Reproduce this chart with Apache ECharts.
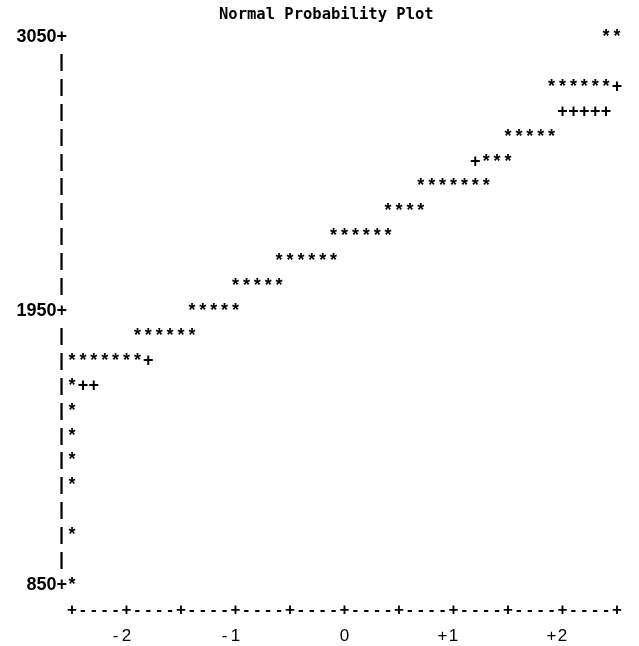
<!DOCTYPE html>
<html>
<head>
<meta charset="utf-8">
<title>Normal Probability Plot</title>
<script src="https://cdn.jsdelivr.net/npm/echarts@6/dist/echarts.min.js"></script>
<style>
  html, body { margin: 0; padding: 0; background: #fff; }
  #main { width: 639px; height: 646px; }
</style>
</head>
<body>
<div id="main"></div>
<script>
// one printer row per binned value: the row's y value, the normal quantile of
// its first character and the characters printed ('*' data, '+' reference line)
var rowValue = [3050, 2850, 2750, 2650, 2550, 2450, 2350, 2250, 2150, 2050,
                1950, 1850, 1750, 1650, 1550, 1450, 1350, 1250, 1050, 850];
var rowStart = [2.4, 1.9, 2.0, 1.5, 1.2, 0.7, 0.4, -0.1, -0.6, -1.0,
                -1.4, -1.9, -2.5, -2.5, -2.5, -2.5, -2.5, -2.5, -2.5, -2.5];
var rowMarks = ['**', '******+', '+++++', '*****', '+***', '*******', '****', '******', '******', '*****',
                '*****', '******', '*******+', '*++', '*', '*', '*', '*', '*', '*'];

var yTickLabels = [850, 1950, 3050];
var xTickLabels = [-2, -1, 0, 1, 2];

var FONT = '"Liberation Sans", Arial, sans-serif';

var stars = [], plus = [];
rowValue.forEach(function (y, r) {
  var s = rowMarks[r];
  for (var i = 0; i < s.length; i++) {
    var x = Math.round((rowStart[r] + 0.1 * i) * 10) / 10;
    if (s[i] === '*') stars.push([x, y]);
    else plus.push([x, y]);
  }
});

function charSeries(name, ch, data) {
  return {
    name: name,
    type: 'custom',
    data: data,
    clip: false,
    renderItem: function (params, api) {
      var p = api.coord([api.value(0), api.value(1)]);
      return {
        type: 'text',
        x: p[0],
        y: p[1],
        style: {
          text: ch,
          fill: '#000',
          fontFamily: FONT,
          fontWeight: 'bold',
          fontSize: 18,
          align: 'center',
          verticalAlign: 'middle'
        }
      };
    }
  };
}

var myChart = echarts.init(document.getElementById('main'));

var option = {
  backgroundColor: '#fff',
  animation: false,
  title: {
    text: 'Normal Probability Plot',
    left: 214,
    top: 2,
    textStyle: {
      fontFamily: '"DejaVu Sans Mono", monospace',
      fontWeight: 'bold',
      fontSize: 15.5,
      color: '#000'
    }
  },
  grid: { left: 72, right: 22, top: 37, bottom: 61 },
  xAxis: [
    {
      type: 'value',
      min: -2.5,
      max: 2.5,
      interval: 0.1,
      axisLine: { show: false },
      axisTick: { show: false },
      splitLine: { show: false },
      axisLabel: {
        margin: 25,
        verticalAlign: 'middle',
        color: '#000',
        fontFamily: FONT,
        fontWeight: 'bold',
        fontSize: 17,
        formatter: function (v) {
          return Math.round(v * 10) % 5 === 0 ? '+' : '-';
        }
      }
    },
    {
      type: 'value',
      position: 'bottom',
      min: -2.5,
      max: 2.5,
      interval: 0.5,
      axisLine: { show: false },
      axisTick: { show: false },
      splitLine: { show: false },
      axisLabel: {
        margin: 51,
        verticalAlign: 'middle',
        color: '#000',
        fontFamily: FONT,
        fontSize: 17,
        formatter: function (v) {
          if (xTickLabels.indexOf(v) < 0) return '';
          if (v === 0) return '{d|0}';
          return '{d|' + (v < 0 ? '-' : '+') + '}{d|' + Math.abs(v) + '}{d|}';
        },
        rich: {
          d: { width: 11, align: 'center', fontFamily: FONT, fontSize: 17, color: '#000' }
        }
      }
    }
  ],
  yAxis: {
    type: 'value',
    min: 850,
    max: 3050,
    interval: 50,
    axisLine: { show: false },
    axisTick: { show: false },
    splitLine: { show: false },
    axisLabel: {
      margin: 5,
      color: '#000',
      fontFamily: FONT,
      fontWeight: 'bold',
      fontSize: 18,
      formatter: function (v) {
        if (yTickLabels.indexOf(v) >= 0) return v + '+';
        if ((v - 850) % 100 === 0) return '{bar||}';
        return '';
      },
      rich: {
        bar: { padding: [0, 3, 0, 0], fontFamily: FONT, fontSize: 18, color: '#000' }
      }
    }
  },
  series: [
    charSeries('Observed', '*', stars),
    charSeries('Reference line', '+', plus)
  ]
};
myChart.setOption(option);
</script>
</body>
</html>
